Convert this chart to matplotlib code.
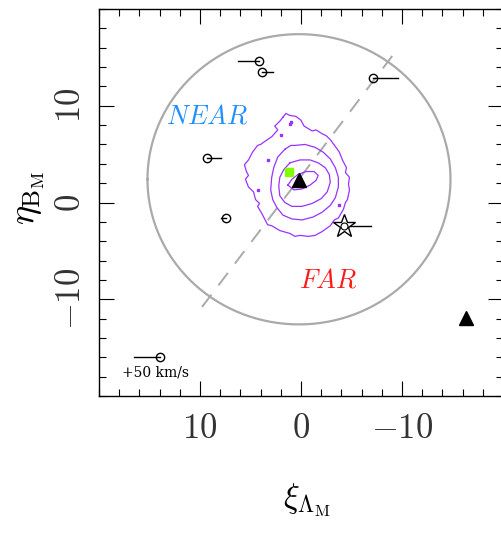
import numpy as np
import matplotlib
matplotlib.use('Agg')
import matplotlib.pyplot as plt
from matplotlib.ticker import MultipleLocator

plt.rcParams['mathtext.fontset'] = 'cm'

# stars with radial velocity bars: xi, eta, end of bar in xi
star_xi = [4.2, 3.85, -7.1, 9.3, 7.4]
star_eta = [14.6, 13.5, 12.9, 4.6, -1.6]
star_end = [6.2, 2.8, -9.6, 7.9, 7.9]

special_xi, special_eta, special_end = -4.3, -2.45, -6.9
scale_xi, scale_eta, scale_end = 14.0, -16.0, 16.5

tri_xi = [0.2, -16.35]
tri_eta = [2.35, -11.9]
green_xi, green_eta = [1.2], [3.2]

circ_xc, circ_yc, circ_r = 0.2, 2.4, 15.0
dash_xi = [9.8, -9.4]
dash_eta = [-10.8, 15.65]

# isodensity contours
c_outer_xi = [1.8, 1.5, 1.1, 0.5, 0.0, -0.3, -1.1, -1.5, -2.1, -2.5, -2.9, -3.6, -3.8, -4.1, -4.5, -4.4,
              -4.8, -4.7, -4.8, -4.6, -4.4, -4.2, -3.7, -3.3, -2.9, -2.1, -1.4, -0.7, 0.1, 0.6, 1.1,
              2.1, 2.9, 3.3, 3.5, 3.9, 4.3, 4.1, 4.5, 4.7, 5.2, 5.5, 5.2, 5.4, 5.6, 5.2, 4.8, 4.3,
              4.0, 3.6, 2.9, 2.3, 2.6, 2.1, 1.8]
c_outer_eta = [8.8, 9.2, 9.0, 8.9, 8.5, 7.9, 7.4, 7.5, 7.1, 6.9, 6.5, 5.5, 5.2, 4.4, 3.6, 3.1,
               2.6, 1.9, 1.3, 0.3, 0.0, -0.7, -1.6, -1.8, -2.4, -3.0, -3.4, -3.5, -3.4, -3.5, -3.2,
               -2.9, -2.4, -2.3, -1.9, -1.1, -0.4, -0.1, 0.3, 1.1, 1.6, 2.4, 2.8, 3.2, 3.9, 4.4, 5.2, 5.9,
               6.0, 6.3, 6.8, 7.5, 7.9, 8.4, 8.8]
c2_xi = [1.6, 1.0, 0.6, -0.4, -1.4, -2.2, -2.9, -3.4, -3.7, -3.7, -3.4, -2.9, -2.1, -1.2, -0.1,
         0.9, 1.8, 2.4, 2.8, 3.0, 2.9, 2.7, 2.3, 1.6]
c2_eta = [5.5, 5.9, 5.9, 6.0, 5.7, 5.2, 4.5, 3.6, 2.6, 1.6, 0.5, -0.3, -1.0, -1.5, -1.8,
          -1.7, -1.3, -0.5, 0.3, 1.3, 2.6, 3.6, 4.7, 5.5]
c3_xi = [1.1, 0.1, -0.9, -1.7, -2.4, -2.8, -2.9, -2.6, -2.0, -1.1, -0.1, 0.9, 1.6, 2.1, 2.2,
         2.1, 1.7, 1.1]
c3_eta = [4.1, 4.4, 4.4, 4.1, 3.6, 2.9, 2.1, 1.1, 0.4, -0.1, -0.4, -0.4, 0.0, 0.7, 1.7,
          2.6, 3.4, 4.1]
c4_xi = [1.3, 0.9, 0.3, -0.5, -1.3, -1.7, -1.5, -0.9, -0.1, 0.7, 1.3]
c4_eta = [1.8, 2.4, 2.9, 3.2, 3.2, 2.8, 2.3, 1.8, 1.4, 1.3, 1.8]
speck_xi = [2.0, 1.1, 3.3, 4.3, -3.8, 1.0]
speck_eta = [7.0, 8.1, 4.4, 1.3, -0.3, 8.3]

purple = '#9933ff'

fig = plt.figure(figsize=(5.01, 5.44), dpi=100)
ax = fig.add_axes([99 / 501, (544 - 396) / 544, 404 / 501, 387 / 544])

t = np.linspace(0, 2 * np.pi, 401)
ax.plot(circ_xc + circ_r * np.cos(t), circ_yc + circ_r * np.sin(t), color='#aaaaaa', lw=1.6,
        solid_joinstyle='round')
ax.plot(dash_xi, dash_eta, color='#aaaaaa', lw=1.4, dashes=(8, 6))

for xs, ys in [(c_outer_xi, c_outer_eta), (c2_xi, c2_eta), (c3_xi, c3_eta), (c4_xi, c4_eta)]:
    ax.plot(xs, ys, color=purple, lw=0.9)
ax.plot(speck_xi, speck_eta, 's', color=purple, ms=1.5, ls='none')

for x, y, e in zip(star_xi, star_eta, star_end):
    ax.plot([x, e], [y, y], color='black', lw=1.0)
ax.plot(star_xi, star_eta, 'o', mfc='none', mec='black', ms=6, mew=1.0, ls='none')

ax.plot([special_xi, special_end], [special_eta, special_eta], color='black', lw=1.0)
ax.plot([special_xi], [special_eta], '*', mfc='white', mec='black', ms=17, mew=1.0)
ax.plot([special_xi], [special_eta], 'o', mfc='none', mec='black', ms=5, mew=0.8)

ax.plot([scale_xi, scale_end], [scale_eta, scale_eta], color='black', lw=1.0)
ax.plot([scale_xi], [scale_eta], 'o', mfc='none', mec='black', ms=6, mew=1.0)
ax.text(14.4, -17.6, '+50 km/s', fontsize=10, family='DejaVu Serif', ha='center', va='center')

ax.plot(green_xi, green_eta, 's', color='#80ff00', ms=6)
ax.plot(tri_xi, tri_eta, '^', color='black', ms=10, ls='none')

ax.text(9.3, 8.9, r'$NEAR$', color='#1e90ff', fontsize=19, ha='center', va='center')
ax.text(-2.7, -8.1, r'$FAR$', color='#ff1a1a', fontsize=19, ha='center', va='center')

ax.set_xlim(20, -20)
ax.set_ylim(-20, 20)
ax.set_xticks([10, 0, -10])
ax.set_xticklabels(['$10$', '$0$', '$-10$'])
ax.set_yticks([-10, 0, 10])
ax.set_yticklabels(['$-10$', '$0$', '$10$'], rotation=90, va='center')
ax.xaxis.set_minor_locator(MultipleLocator(2))
ax.yaxis.set_minor_locator(MultipleLocator(2))
ax.tick_params(which='both', direction='in', top=True, right=True, width=0.8,
               labelsize=25, labelcolor='#333333')
ax.tick_params(which='major', length=11)
ax.tick_params(which='minor', length=5)
ax.tick_params(axis='x', pad=11)
ax.tick_params(axis='y', pad=9)
for s in ax.spines.values():
    s.set_linewidth(1.0)

fig.text(307 / 501, 1 - 500 / 544, r'$\xi_{\Lambda_{\rm M}}$', fontsize=24, ha='center', va='center')
fig.text(30 / 501, 1 - 198 / 544, r'$\eta_{\rm B_M}$', fontsize=26, ha='center', va='center', rotation=90)

fig.savefig('out.png', dpi=100)
